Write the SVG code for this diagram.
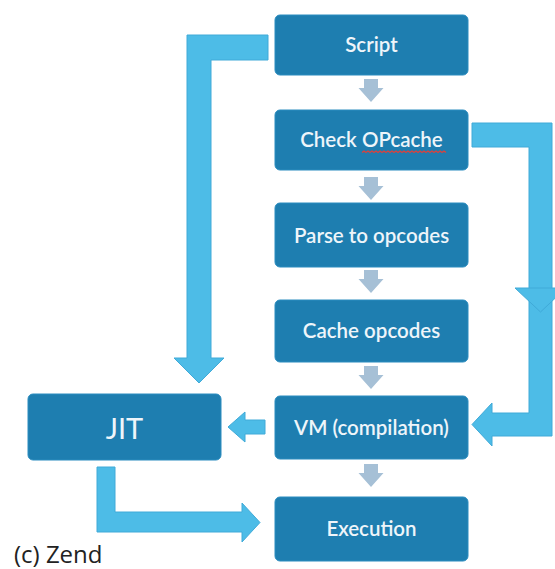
<svg xmlns="http://www.w3.org/2000/svg" xmlns:xlink="http://www.w3.org/1999/xlink" width="555" height="569" viewBox="0 0 555 569">
<style>
.box{fill:#1e7eb0;stroke:#2a8cbf;stroke-width:1}
.lbl{font-family:Lato,"Open Sans","Liberation Sans",sans-serif;font-size:20.5px;font-weight:600;fill:#eef5fa;text-anchor:middle}
.conn{fill:#4dbce7;stroke:#40aad8;stroke-width:1;stroke-linejoin:miter}
.step{fill:#a6c0d6}
.cap{font-family:"Open Sans","Liberation Sans",sans-serif;font-size:24px;fill:#222}
</style>
<defs>
<path id="garrow" class="step" d="M-7,0 H7 V9 H12.5 L0,23 L-12.5,9 H-7 Z"/>
</defs>
<rect width="555" height="569" fill="#ffffff"/>
<g id="connectors">
<path class="conn" d="M268,35 H187 V358 H174 L199,383 L224,358 H211 V60 H268 Z"/>
<path class="conn" d="M472,123 H552 V436 H492 V446 L472,424.5 L492,403 V413 H529 V147 H472 Z"/>
<path class="conn" d="M515,288 H566 L540.5,312 Z"/>
<path class="conn" d="M265,420 H245 V412 L228,427 L245,442 V434 H265 Z"/>
<path class="conn" d="M97,467 H115 V512 H242 V503 L260,522.5 L242,542 V532 H97 Z"/>
<use xlink:href="#garrow" x="371" y="79"/>
<use xlink:href="#garrow" x="371" y="177"/>
<use xlink:href="#garrow" x="371" y="270"/>
<use xlink:href="#garrow" x="371" y="366"/>
<use xlink:href="#garrow" x="371" y="464"/>
</g>
<g id="script"><rect class="box" x="275" y="15" width="193" height="60" rx="5"/><text class="lbl" x="371.5" y="52">Script</text></g>
<g id="check-opcache"><rect class="box" x="275" y="110" width="193" height="60" rx="5"/><text class="lbl" x="371.5" y="147">Check OPcache</text>
<path d="M362,152.5 l2,-1.5 l2,1.5 l2,-1.5 l2,1.5 l2,-1.5 l2,1.5 l2,-1.5 l2,1.5 l2,-1.5 l2,1.5 l2,-1.5 l2,1.5 l2,-1.5 l2,1.5 l2,-1.5 l2,1.5 l2,-1.5 l2,1.5 l2,-1.5 l2,1.5 l2,-1.5 l2,1.5 l2,-1.5 l2,1.5 l2,-1.5 l2,1.5 l2,-1.5 l2,1.5 l2,-1.5 l2,1.5 l2,-1.5 l2,1.5 l2,-1.5 l2,1.5 l2,-1.5 l2,1.5 l2,-1.5 l2,1.5 l2,-1.5 l2,1.5 l2,-1.5 l2,1.5" fill="none" stroke="#e0403a" stroke-width="1.2"/></g>
<g id="parse"><rect class="box" x="275" y="203" width="193" height="64" rx="5"/><text class="lbl" x="371.5" y="243">Parse to opcodes</text></g>
<g id="cache"><rect class="box" x="275" y="300" width="193" height="62" rx="5"/><text class="lbl" x="371.5" y="338">Cache opcodes</text></g>
<g id="vm"><rect class="box" x="275" y="396" width="193" height="63" rx="5"/><text class="lbl" x="371.5" y="435">VM (compilation)</text></g>
<g id="execution"><rect class="box" x="275" y="497" width="193" height="64" rx="5"/><text class="lbl" x="371.5" y="536">Execution</text></g>
<g id="jit"><rect class="box" x="28" y="394" width="193" height="66" rx="5"/><text class="lbl" x="124.5" y="439" style="font-size:29px;font-weight:normal">JIT</text></g>
<text class="cap" x="14" y="563">(c) Zend</text>
</svg>
